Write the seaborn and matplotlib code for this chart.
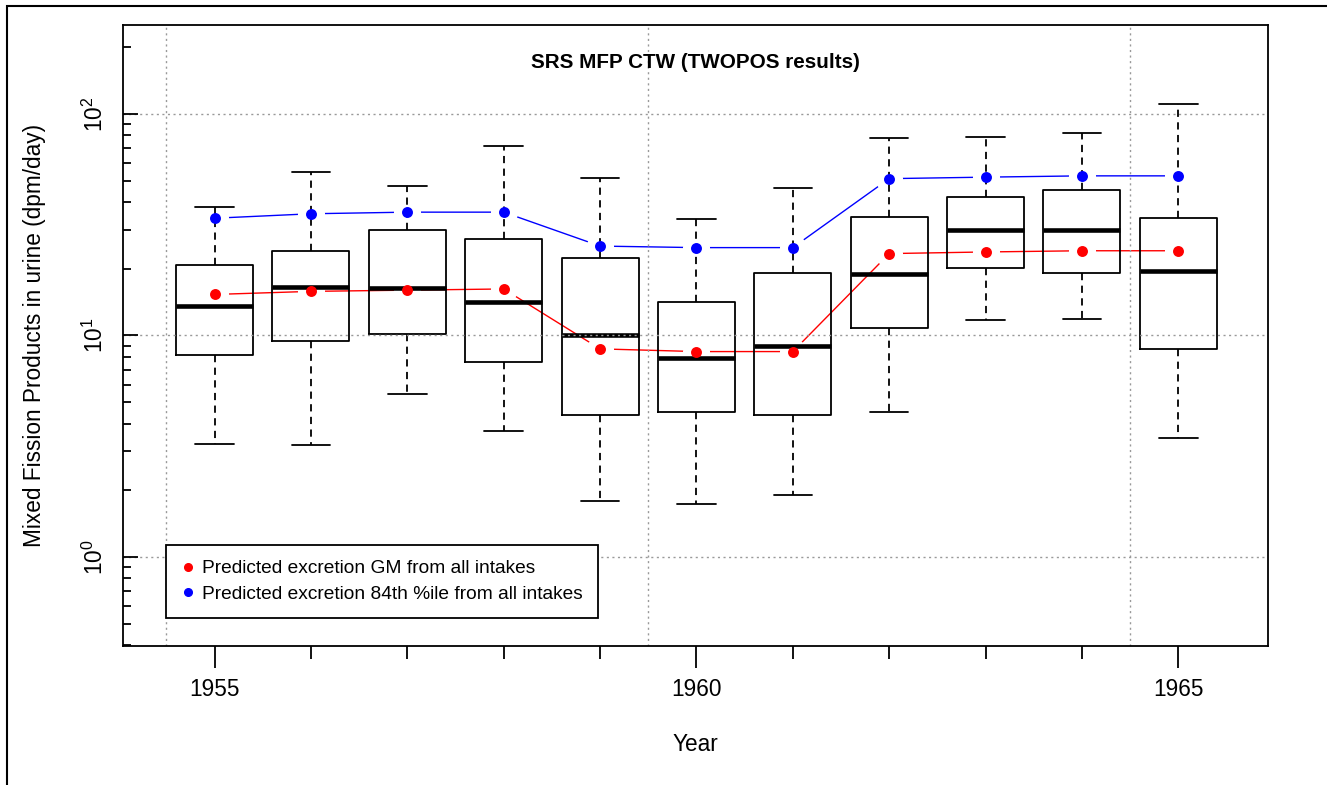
import numpy as np
import pandas as pd
import matplotlib
matplotlib.use("Agg")
import matplotlib.pyplot as plt
import matplotlib.ticker as mticker
from matplotlib.lines import Line2D
from matplotlib.patches import Rectangle
import seaborn as sns

# values (dpm/day)
years = [1955, 1956, 1957, 1958, 1959, 1960, 1961, 1962, 1963, 1964, 1965]
whisker_low = [3.24, 3.19, 5.43, 3.71, 1.79, 1.73, 1.90, 4.51, 11.7, 11.8, 3.44]
box_low = [8.19, 9.41, 10.1, 7.59, 4.38, 4.51, 4.38, 10.8, 20.1, 19.2, 8.71]
medians = [13.55, 16.6, 16.3, 14.2, 10.0, 7.94, 8.97, 18.9, 29.9, 29.9, 19.5]
box_high = [20.7, 24.1, 29.9, 27.3, 22.4, 14.2, 19.2, 34.4, 42.3, 45.1, 33.8]
whisker_high = [38.0, 54.7, 47.2, 71.5, 51.6, 33.7, 46.3, 77.9, 79.0, 81.8, 111.0]
gm_pred = [15.3, 15.8, 16.0, 16.2, 8.69, 8.45, 8.45, 23.4, 23.8, 24.1, 24.1]
p84_pred = [33.8, 35.4, 36.0, 36.0, 25.3, 24.9, 24.9, 51.0, 51.8, 52.5, 52.5]

labels = ["Predicted excretion GM from all intakes",
          "Predicted excretion 84th %ile from all intakes"]

# five numbers per year -> seaborn recovers them exactly as min/q1/median/q3/max
rows = []
for i, yr in enumerate(years):
    for v in (whisker_low[i], box_low[i], medians[i], box_high[i], whisker_high[i]):
        rows.append({"year": yr, "mfp": v})
box_df = pd.DataFrame(rows)
pred_df = pd.DataFrame({"year": years, "gm": gm_pred, "p84": p84_pred})

sns.set_theme(style="white", rc={"axes.edgecolor": "black", "axes.linewidth": 1.3,
                                 "text.color": "black", "axes.labelcolor": "black",
                                 "xtick.color": "black", "ytick.color": "black"})
plt.rcParams["font.family"] = ["Liberation Sans", "DejaVu Sans"]
plt.rcParams["mathtext.fontset"] = "custom"
plt.rcParams["mathtext.rm"] = "Liberation Sans"
plt.rcParams["mathtext.it"] = "Liberation Sans"

fig = plt.figure(figsize=(13.27, 7.85), dpi=100)
ax = fig.add_axes([0.0927, 0.1771, 0.8628, 0.7911])
ax.set_yscale("log")

sns.boxplot(data=box_df, x="year", y="mfp", native_scale=True, whis=(0, 100),
            width=0.8, fill=False, color="black", linewidth=1.3,
            whiskerprops={"linestyle": (0, (4, 3))},
            medianprops={"linewidth": 3.3, "color": "black"}, ax=ax)

for col, c in (("gm", "red"), ("p84", "blue")):
    sns.lineplot(data=pred_df, x="year", y=col, color=c, linewidth=1.0, zorder=1, ax=ax)
    sns.scatterplot(data=pred_df, x="year", y=col, color="white", s=380,
                    linewidth=0, zorder=1.5, ax=ax)
    sns.scatterplot(data=pred_df, x="year", y=col, color=c, s=62,
                    linewidth=0, zorder=3, ax=ax)

ax.set_xlim(1954.05, 1965.93)
ax.set_ylim(0.396, 252)

ax.xaxis.set_major_locator(mticker.FixedLocator([1955, 1960, 1965]))
ax.xaxis.set_minor_locator(mticker.FixedLocator(years))
ax.xaxis.set_major_formatter(mticker.FormatStrFormatter("%d"))
ax.tick_params(axis="x", which="major", direction="out", length=15.8, width=1.3,
               pad=7, labelsize=16.3, bottom=True)
ax.tick_params(axis="x", which="minor", direction="out", length=9.4, width=1.3, bottom=True)

ax.yaxis.set_major_locator(mticker.FixedLocator([1, 10, 100]))
ax.yaxis.set_minor_locator(mticker.LogLocator(base=10, subs=np.arange(2, 10)))
ax.yaxis.set_major_formatter(mticker.FixedFormatter([r"$10^{0}$", r"$10^{1}$", r"$10^{2}$"]))
ax.yaxis.set_minor_formatter(mticker.NullFormatter())
ax.tick_params(axis="y", which="major", direction="in", length=11, width=1.3,
               pad=11, labelsize=16.3, left=True)
ax.tick_params(axis="y", which="minor", direction="in", length=5.5, width=1.3, left=True)
for t in ax.get_yticklabels():
    t.set_rotation(90)
    t.set_va("center")

# R style dotted reference grid, drawn over the boxes
ax.set_axisbelow(False)
for xv in (1954.5, 1959.5, 1964.5):
    ax.axvline(xv, color="#999999", linewidth=1, linestyle=(0, (1.5, 2.5)), zorder=2.5)
for yv in (1, 10, 100):
    ax.axhline(yv, color="#999999", linewidth=1, linestyle=(0, (1.5, 2.5)), zorder=2.5)

ax.text(0.5, 0.939, "SRS MFP CTW (TWOPOS results)", transform=ax.transAxes,
        ha="center", va="center", fontsize=14.9, fontweight="bold")

ax.set_xlabel("Year", fontsize=16.3)
ax.set_ylabel("Mixed Fission Products in urine (dpm/day)", fontsize=16.3)
ax.xaxis.set_label_coords(0.5, -0.1594)
ax.xaxis.label.set_va("center")
ax.yaxis.set_label_coords(-0.0769, 0.5)
ax.yaxis.label.set_va("center")

handles = [Line2D([], [], marker="o", color=c, linestyle="none", markersize=5.5)
           for c in ("red", "blue")]
leg = ax.legend(handles, labels, loc="lower left", bbox_to_anchor=(0.0373, 0.0446),
                borderaxespad=0, fontsize=13.8, frameon=True, fancybox=False,
                handlelength=0.7, handletextpad=0.4, borderpad=0.8, labelspacing=0.42)
leg.get_frame().set_edgecolor("black")
leg.get_frame().set_linewidth(1.3)
leg.get_frame().set_alpha(1)
leg.set_zorder(5)

# outer frame of the original device region (only top and left edges visible)
fig.patches.append(Rectangle((7 / 1327, -0.2), 1.5, 0.99236 + 0.2, transform=fig.transFigure,
                             fill=False, edgecolor="black", linewidth=1.5))

fig.savefig("out.png", dpi=100)
